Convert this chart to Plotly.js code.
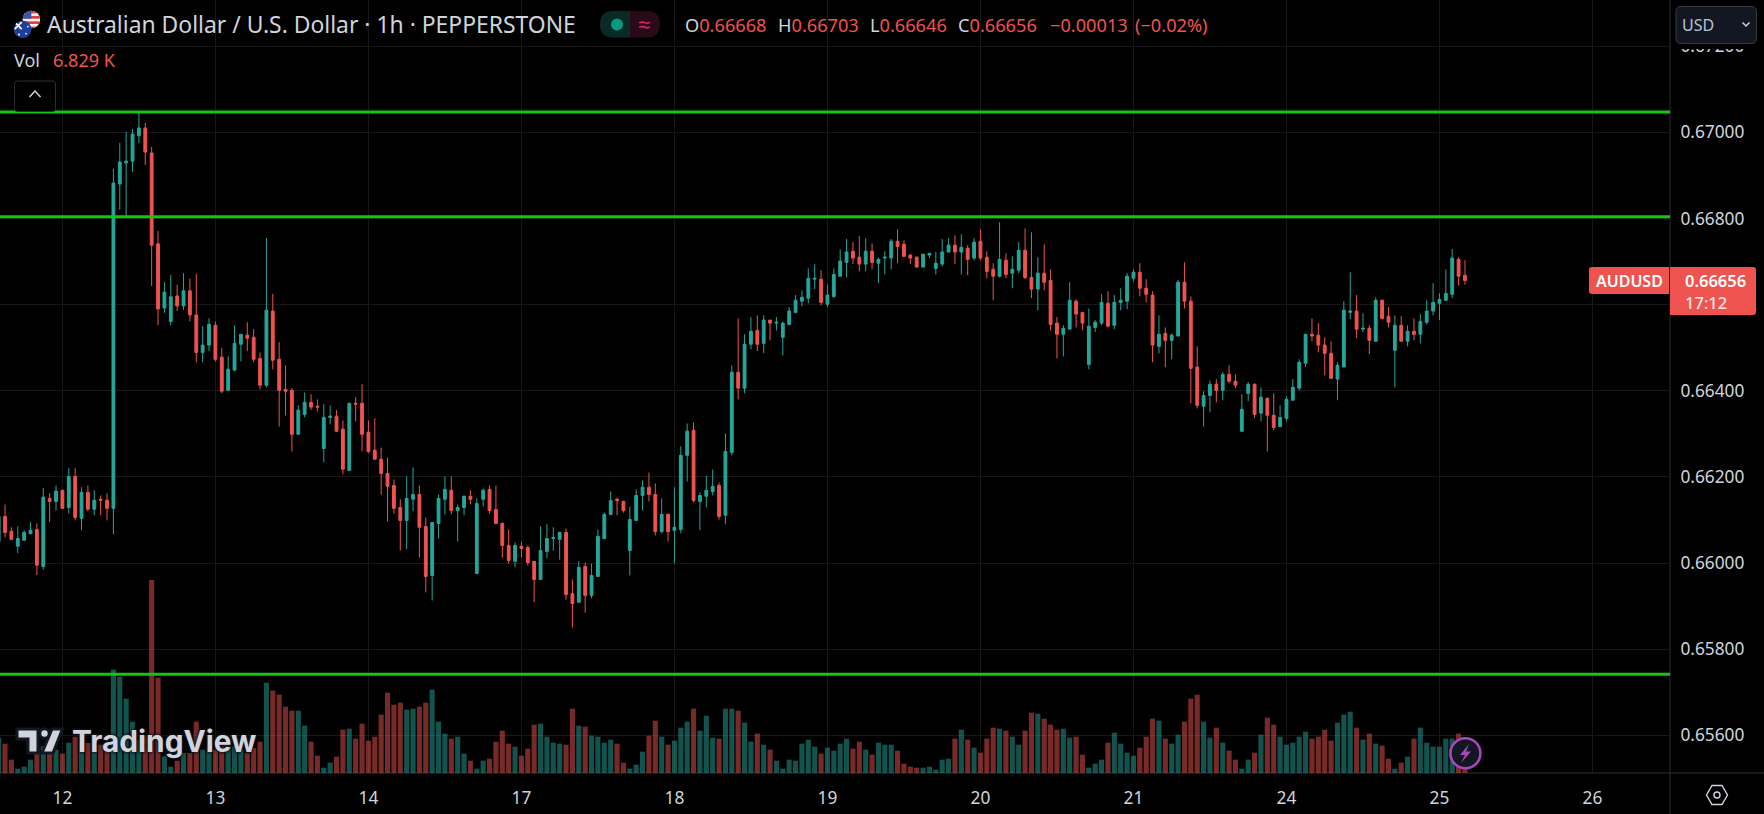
<!DOCTYPE html>
<html><head><meta charset="utf-8">
<script src="https://cdn.plot.ly/plotly-3.0.1.min.js"></script>
<style>html,body{margin:0;padding:0;background:#000;overflow:hidden}</style>
</head><body><div id="chart"></div>
<script>
// Prices in 1e-5 units, first bar is 10 hours before the "12" tick
const firstBar = -10;
const opens = [
66050,66108,66074,66039,66053,66068,66078,65992,66150,66143,
66169,66129,66201,66104,66164,66125,66148,66146,66127,66880,
66929,66933,66992,67010,66952,66741,66592,66561,66620,66597,
66632,66576,66489,66506,66552,66478,66401,66448,66508,66529,
66524,66475,66413,66585,66473,66403,66401,66299,66345,66373,
66364,66266,66338,66341,66311,66215,66371,66371,66304,66262,
66241,66208,66180,66129,66099,66148,66159,66085,65971,66092,
66148,66169,66122,66129,66155,65976,66148,66171,66124,66092,
66041,66004,66039,66036,66004,65962,66027,66057,66055,66071,
65929,65909,65992,65925,65969,66057,66113,66148,66143,66029,
66099,66157,66176,66159,66073,66113,66076,66078,66250,66308,
66143,66155,66166,66180,66111,66257,66443,66406,66508,66540,
66510,66564,66557,66524,66554,66582,66608,66615,66659,66659,
66601,66619,66666,66698,66724,66710,66694,66724,66696,66708,
66708,66747,66740,66715,66710,66687,66715,66684,66694,66722,
66738,66722,66731,66708,66747,66710,66682,66666,66703,66673,
66680,66726,66663,66636,66673,66656,66557,66531,66543,66608,
66582,66461,66547,66557,66603,66552,66605,66608,66661,66675,
66638,66622,66503,66533,66517,66527,66652,66608,66455,66364,
66389,66415,66401,66438,66422,66306,66394,66415,66348,66382,
66343,66317,66336,66378,66406,66464,66531,66529,66506,66487,
66427,66455,66582,66585,66543,66545,66515,66610,66573,66494,
66552,66515,66538,66531,66559,66585,66603,66610,66624,66705,
66668];
const highs = [
66108,66136,66083,66085,66076,66095,66092,66174,66162,66180,
66169,66220,66220,66176,66180,66169,66157,66162,66915,66975,
67001,67008,67045,67022,66966,66771,66652,66669,66646,66673,
66660,66672,66550,66568,66561,66499,66480,66552,66531,66559,
66543,66489,66755,66625,66513,66459,66406,66366,66396,66392,
66380,66369,66366,66355,66331,66371,66385,66415,66331,66336,
66268,66245,66194,66148,66201,66222,66180,66106,66094,66159,
66201,66201,66136,66157,66169,66150,66173,66180,66180,66094,
66078,66048,66050,66041,66004,66085,66090,66083,66073,66080,
65962,66004,66001,65999,66078,66117,66166,66152,66145,66131,
66171,66192,66210,66185,66150,66115,66176,66271,66324,66326,
66164,66203,66217,66187,66301,66459,66568,66531,66571,66575,
66575,66564,66571,66561,66594,66622,66633,66684,66694,66680,
66647,66684,66728,66752,66745,66759,66754,66742,66710,66724,
66752,66775,66749,66717,66712,66717,66719,66722,66752,66754,
66761,66763,66738,66754,66775,66724,66696,66791,66719,66712,
66745,66777,66768,66710,66740,66682,66571,66552,66652,66612,
66582,66591,66564,66624,66631,66622,66638,66673,66682,66696,
66659,66631,66575,66547,66533,66657,66698,66619,66503,66399,
66424,66427,66443,66459,66438,66392,66420,66417,66408,66385,
66394,66366,66387,66427,66473,66531,66568,66557,66524,66515,
66466,66608,66675,66622,66580,66552,66617,66612,66594,66575,
66573,66552,66568,66578,66610,66650,66626,66682,66729,66710,
66703];
const lows = [
66050,66060,66055,66023,66053,66067,65972,65985,66095,66122,
66127,66115,66099,66076,66120,66111,66111,66099,66067,66820,
66803,66908,66975,66924,66643,66552,66581,66552,66585,66588,
66561,66466,66466,66492,66468,66394,66399,66445,66468,66492,
66466,66403,66408,66450,66317,66343,66259,66299,66338,66355,
66352,66234,66322,66304,66206,66215,66329,66259,66255,66241,
66159,66097,66115,66029,66032,66120,66013,65932,65913,66057,
66113,66113,66050,66111,66136,65976,66131,66115,66090,66013,
65999,65990,66013,65994,65909,65962,66011,66029,66008,65915,
65850,65909,65885,65918,65969,66057,66111,66111,66117,65971,
66099,66122,66143,66064,66069,66050,65999,66069,66189,66141,
66076,66129,66157,66101,66090,66250,66380,66394,66496,66492,
66487,66517,66540,66482,66552,66580,66596,66603,66636,66598,
66594,66615,66666,66663,66694,66677,66677,66682,66650,66670,
66682,66696,66712,66694,66687,66687,66708,66670,66689,66722,
66694,66670,66668,66703,66703,66661,66610,66663,66661,66638,
66673,66659,66615,66587,66633,66540,66475,66480,66543,66547,
66540,66450,66536,66552,66547,66543,66587,66589,66654,66619,
66605,66466,66487,66455,66473,66527,66591,66371,66359,66317,
66350,66373,66378,66417,66406,66304,66376,66336,66329,66259,
66308,66315,66329,66378,66401,66455,66515,66489,66436,66427,
66378,66455,66566,66522,66536,66485,66513,66566,66547,66408,
66515,66503,66517,66510,66554,66575,66564,66608,66615,66645,
66646];
const closes = [
66108,66071,66055,66057,66071,66076,65995,66153,66143,66167,
66127,66201,66106,66164,66125,66146,66146,66127,66882,66931,
66933,66996,67010,66954,66738,66590,66629,66618,66597,66632,
66576,66489,66506,66554,66473,66399,66450,66510,66531,66522,
66473,66413,66587,66471,66401,66399,66299,66355,66373,66362,
66362,66338,66341,66306,66218,66371,66369,66299,66259,66241,
66208,66178,66127,66099,66150,66159,66083,65969,66094,66150,
66171,66122,66129,66155,66148,66138,66169,66122,66092,66041,
66006,66041,66034,66001,65962,66029,66057,66059,66071,65927,
65906,65990,65925,65971,66062,66113,66145,66145,66122,66101,
66157,66176,66159,66073,66113,66073,66083,66250,66306,66145,
66157,66169,66178,66108,66259,66443,66406,66508,66538,66508,
66564,66557,66559,66557,66585,66610,66617,66661,66661,66605,
66622,66670,66701,66722,66708,66694,66724,66698,66705,66710,
66747,66735,66712,66708,66687,66717,66719,66696,66722,66738,
66722,66733,66705,66745,66708,66677,66666,66705,66670,66682,
66726,66663,66636,66673,66652,66554,66531,66545,66610,66578,
66557,66550,66559,66605,66550,66605,66610,66666,66675,66638,
66624,66506,66531,66517,66529,66652,66608,66452,66366,66389,
66415,66401,66438,66422,66413,66357,66415,66345,66385,66343,
66315,66338,66380,66408,66466,66531,66527,66506,66487,66429,
66459,66587,66585,66543,66545,66517,66610,66568,66559,66552,
66515,66538,66531,66561,66585,66605,66612,66626,66708,66666,
66656];
const volumesK = [
10.6,8.8,4.0,1.3,1.9,4.0,7.5,8.0,10.0,7.0,
5.8,9.1,10.9,9.0,9.0,8.5,8.5,8.5,31.0,28.9,
22.3,15.4,10.0,11.0,57.9,28.6,5.0,1.9,3.7,6.0,
6.0,15.4,7.0,8.0,7.0,8.0,8.0,8.0,7.0,6.0,
7.5,9.4,27.1,24.7,23.5,19.9,18.7,18.7,14.2,9.4,
5.2,1.6,3.1,4.9,13.0,13.3,10.3,14.8,9.7,10.9,
17.5,24.1,20.5,21.1,19.0,19.3,19.9,21.1,25.0,15.4,
11.8,10.3,10.9,5.8,3.7,1.3,3.7,4.3,9.4,12.7,
8.8,7.9,5.2,7.3,14.5,14.8,10.9,9.1,8.8,8.5,
19.3,14.2,13.9,11.2,10.9,9.1,10.0,8.8,3.1,1.3,
2.5,6.4,11.2,15.7,10.9,8.5,9.7,13.6,15.4,19.3,
12.7,17.2,10.6,10.3,19.3,19.3,18.7,15.1,9.4,11.8,
8.5,7.0,3.7,1.3,4.0,3.7,8.8,10.0,7.9,5.8,
7.6,6.7,8.8,10.3,7.3,9.4,7.0,5.5,9.1,8.5,
8.5,6.7,2.8,1.9,1.6,1.6,1.9,1.0,4.0,4.3,
10.3,13.0,10.0,7.6,6.1,10.3,13.6,13.3,12.7,10.9,
8.5,12.7,18.1,17.8,16.3,14.5,13.0,13.3,10.6,10.9,
5.5,1.6,2.8,4.0,9.1,12.1,8.8,6.1,5.2,7.6,
10.9,16.3,15.7,10.3,8.8,11.5,15.4,22.3,23.5,15.4,
10.6,13.6,9.1,6.7,4.0,1.3,4.0,6.1,11.5,16.6,
14.5,10.9,8.5,9.1,10.9,12.4,10.3,10.9,13.0,9.7,
15.1,17.5,18.4,13.6,10.0,11.8,8.8,8.2,4.3,1.3,
3.1,4.9,10.3,13.6,9.1,7.9,7.9,10.3,10.3,11.8,
6.829];
const keyLevels = [0.67047, 0.66804, 0.65742];
const dayTicks = [0,24,48,72,96,120,144,168,192,216,240];
const dayLabels = ['12','13','14','17','18','19','20','21','24','25','26'];
const priceTicks = [0.672,0.670,0.668,0.666,0.664,0.662,0.660,0.658,0.656];
const priceLabels = ['0.67200','0.67000','0.66800','','0.66400','0.66200','0.66000','0.65800','0.65600'];

const UP='#26a69a', DOWN='#ef5350', TXT='#d1d4dc', GRID='#171717', EDGE='#2a2e39';
const FONT='"Noto Sans", sans-serif';
const W=1764,H=814,PW=1670,PH=773;
const X=x=>x/PW, Y=y=>1-y/PH;
const xs=opens.map((_,i)=>i+firstBar);
const p=a=>a.map(v=>v/1e5);

const shapes=[], annotations=[];
function path(d,fill,line,lw){shapes.push({type:'path',xref:'paper',yref:'paper',layer:'above',path:d,fillcolor:fill||'rgba(0,0,0,0)',line:{color:line||'rgba(0,0,0,0)',width:lw||0}});}
function poly(pts,close){return pts.map((q,k)=>(k?'L':'M')+X(q[0])+','+Y(q[1])).join(' ')+(close===false?'':' Z');}
function rr(x0,y0,x1,y1,rl,rr2){rr2=rr2===undefined?rl:rr2;
 const P=(a,b)=>X(a)+','+Y(b);
 return 'M'+P(x0+rl,y0)+' L'+P(x1-rr2,y0)+' Q'+P(x1,y0)+' '+P(x1,y0+rr2)+' L'+P(x1,y1-rr2)+' Q'+P(x1,y1)+' '+P(x1-rr2,y1)+' L'+P(x0+rl,y1)+' Q'+P(x0,y1)+' '+P(x0,y1-rl)+' L'+P(x0,y0+rl)+' Q'+P(x0,y0)+' '+P(x0+rl,y0)+' Z';}
function circle(cx,cy,r,fill,line,lw){shapes.push({type:'circle',xref:'paper',yref:'paper',layer:'above',x0:X(cx-r),x1:X(cx+r),y0:Y(cy+r),y1:Y(cy-r),fillcolor:fill||'rgba(0,0,0,0)',line:{color:line||'rgba(0,0,0,0)',width:lw||0}});}
function text(t,x,y,size,color,anchor,extra){annotations.push(Object.assign({text:t,xref:'paper',yref:'paper',x:X(x),y:Y(y),xanchor:anchor||'left',yanchor:'middle',showarrow:false,borderpad:0,font:Object.assign({family:FONT,size:size,color:color})},extra||{}));}

// key levels, drawn against the price axis
keyLevels.forEach(v=>shapes.push({type:'line',xref:'paper',yref:'y2',layer:'above',x0:0,x1:1,y0:v,y1:v,line:{color:'#12c712',width:3}}));

// frame lines
shapes.push({type:'line',xref:'paper',yref:'paper',layer:'below',x0:0,x1:W/PW,y0:0,y1:0,line:{color:EDGE,width:1}});
shapes.push({type:'line',xref:'paper',yref:'paper',layer:'below',x0:1,x1:1,y0:Y(H),y1:1,line:{color:EDGE,width:1}});

// USD box with the black strip that clips the top tick label
path(poly([[1671,0],[1764,0],[1764,49],[1671,49]]),'#000');
path(rr(1676,6.5,1756.5,43.5,5),'#131722','#363a45',1);
path(poly([[1742.5,22.5],[1746,26],[1749.5,22.5]],false),null,TXT,1.5);
text('USD',1681,25,16,'#b8c4d8');

// collapse button
path(rr(14.5,81,55.5,111.5,3),'#000','#2a2e39',1);
path(poly([[29.5,97],[35,91],[40.5,97]],false),null,TXT,1.5);

// status pill
path(rr(600,11,630,37.5,13,0),'#0a2a26');
path(rr(630,11,660,37.5,0,13),'#2a0a18');
circle(617,24.5,6,'#089981');
text('≈',644,23,22,'#e91e63','center');

// price tag
path(rr(1589,267,1669,294,3,0),DOWN);
path(rr(1670,267,1756,315,0,3),DOWN);
text('AUDUSD',1629,281,16,'#fff','center',{font:{family:FONT,size:16,color:'#fff',weight:600}});
text('0.66656',1684,281,16.5,'#fff','left',{font:{family:FONT,size:16.5,color:'#fff',weight:600}});
text('17:12',1684,302,16.5,'#f6e6e6','left',{font:{family:FONT,size:16.5,color:'#f6e6e6',weight:500}});

// settings hexagon
path(poly([[1706.5,795],[1712,785.5],[1722,785.5],[1727.5,795],[1722,804.5],[1712,804.5]]),null,TXT,1.4);
circle(1717,795,3,null,TXT,1.4);

// bolt button
circle(1465.4,753.3,15,'#131722','#ab47bc',2.5);
path(poly([[1469,744],[1460,755],[1465,755],[1461,763],[1471,751.5],[1466,751.5]]),'#ab47bc');

// watermark
const wm='#d1d4dc',wo='#131722';
path(poly([[17,729],[38,729],[38,753],[28,753],[28,739],[17,739]]),wm,wo,3);
circle(44.5,733.5,4.7,wm,wo,3);
path(poly([[52,729],[62.5,729],[53,753],[42,753]]),wm,wo,3);
text('TradingView',71,741,29.8,wm,'left',{font:{family:'Inter, sans-serif',size:29.8,color:wm,weight:700,shadow:'0 0 3px #131722, 0 0 3px #131722, 0 0 3px #131722'}});

// header
text('Australian Dollar / U.S. Dollar · 1h · PEPPERSTONE',46,25,22.9,TXT);
const r=s=>'<span style="color:'+DOWN+'">'+s+'</span>';
text('O'+r('0.66668'),684,25,18.2,TXT);
text('H'+r('0.66703'),777,25,18.2,TXT);
text('L'+r('0.66646'),869,25,18.2,TXT);
text('C'+r('0.66656'),957,25,18.2,TXT);
text('−0.00013',1048.5,25,18.2,DOWN);
text('(−0.02%)',1134,25,18.2,DOWN);
text('Vol',13,60,18,TXT);
text('6.829 K',52,60,18,DOWN);

const images=[{source:'data:image/svg+xml;utf8,'+encodeURIComponent(
 '<svg xmlns="http://www.w3.org/2000/svg" width="36" height="36" viewBox="0 0 36 36"><defs><clipPath id="a"><circle cx="22" cy="12" r="10"/></clipPath><clipPath id="b"><circle cx="12" cy="23" r="10"/></clipPath></defs>'+
 '<g clip-path="url(#a)"><rect x="10" y="0" width="26" height="26" fill="#f4f4f4"/><rect x="10" y="2" width="26" height="3" fill="#e23b3b"/><rect x="10" y="8" width="26" height="3" fill="#e23b3b"/><rect x="10" y="14" width="26" height="3" fill="#e23b3b"/><rect x="10" y="20" width="26" height="3" fill="#e23b3b"/><rect x="10" y="0" width="12" height="11" fill="#3a57a8"/></g>'+
 '<g clip-path="url(#b)"><rect width="26" height="36" fill="#1f3f9c"/><path d="M3 15l8 8M11 15l-8 8" stroke="#fff" stroke-width="2"/><circle cx="16" cy="28" r="1" fill="#fff"/><circle cx="18" cy="20" r="1" fill="#fff"/><circle cx="8" cy="29" r="1.2" fill="#fff"/></g></svg>'),
 xref:'paper',yref:'paper',x:X(12),y:Y(9),sizex:36*0.88/PW,sizey:36*0.88/PH,xanchor:'left',yanchor:'top',sizing:'stretch',layer:'above'}];

const traces=[
 {type:'bar',x:xs,y:volumesK,yaxis:'y',width:0.8,hoverinfo:'skip',showlegend:false,
  marker:{line:{width:0},color:opens.map((o,i)=>closes[i]>=o?'rgba(38,166,154,0.5)':'rgba(239,83,80,0.5)')}},
 {type:'candlestick',x:xs,open:p(opens),high:p(highs),low:p(lows),close:p(closes),yaxis:'y2',hoverinfo:'skip',showlegend:false,whiskerwidth:0,
  increasing:{line:{color:UP,width:1},fillcolor:UP},decreasing:{line:{color:DOWN,width:1},fillcolor:DOWN}}
];
const layout={
 width:W,height:H,autosize:false,margin:{l:0,r:W-PW,t:0,b:H-PH,pad:0},
 paper_bgcolor:'#000',plot_bgcolor:'#000',hovermode:false,showlegend:false,dragmode:false,
 boxgap:0.37,bargap:0.2,
 xaxis:{type:'linear',range:[-9.788,252.16],tickmode:'array',tickvals:dayTicks,ticktext:dayLabels,showgrid:true,gridcolor:GRID,gridwidth:1,zeroline:false,showline:false,ticks:'outside',ticklen:9,tickcolor:'rgba(0,0,0,0)',tickfont:{family:FONT,size:17.3,color:TXT},rangeslider:{visible:false},fixedrange:true},
 yaxis:{range:[0,231.9],visible:false,showgrid:false,zeroline:false,fixedrange:true},
 yaxis2:{overlaying:'y',side:'right',range:[0.655126,0.673071],tickmode:'array',tickvals:priceTicks,ticktext:priceLabels,showgrid:true,gridcolor:GRID,gridwidth:1,zeroline:false,showline:false,ticks:'outside',ticklen:6,tickcolor:'rgba(0,0,0,0)',tickfont:{family:FONT,size:17.3,color:TXT},fixedrange:true},
 shapes,annotations,images
};
Plotly.newPlot('chart',traces,layout,{staticPlot:true,displayModeBar:false});
</script></body></html>
